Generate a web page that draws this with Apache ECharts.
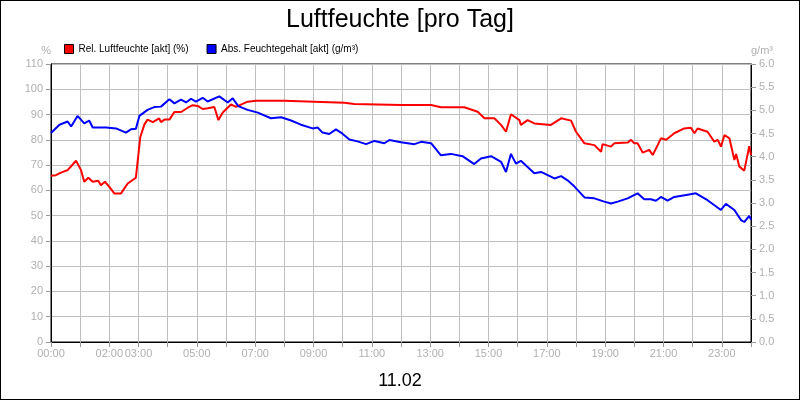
<!DOCTYPE html>
<html><head><meta charset="utf-8">
<script src="https://cdn.jsdelivr.net/npm/echarts@6/dist/echarts.min.js"></script>
<style>html,body{margin:0;padding:0}#c{width:798px;height:398px;border:1px solid #000}</style>
</head><body><div id="c"></div>
<script>
const relHours=[0,.17,.34,.57,.86,1.03,1.14,1.28,1.43,1.62,1.71,1.85,2.0,2.17,2.4,2.63,2.91,3.06,3.2,3.31,3.49,3.71,3.77,3.89,4.06,4.23,4.46,4.69,4.86,5.03,5.2,5.37,5.6,5.74,5.89,6.17,6.34,6.74,7.03,8.0,9.03,10.06,10.4,12,13.03,13.37,14.17,14.63,14.86,15.2,15.43,15.6,15.77,16.06,16.11,16.34,16.57,17.14,17.49,17.83,18.0,18.29,18.63,18.86,18.91,19.2,19.31,19.77,19.89,20.0,20.11,20.29,20.51,20.63,20.8,20.91,21.09,21.37,21.71,21.94,22.06,22.17,22.51,22.74,22.86,22.97,23.09,23.26,23.43,23.49,23.6,23.77,23.94,24.0];
const relValues=[65.8,66,67,68,71.7,68,63.4,65,63.4,63.8,62,63.4,61.4,58.8,58.8,62.7,65,81,86,88,87,88.5,87,88,88,91,91,92.7,93.7,93.4,92.2,92.5,93,87.8,90.8,94,93,95.1,95.5,95.5,95.1,94.7,94.2,93.8,93.8,92.9,92.9,91.1,88.5,88.5,85.9,83.2,90.1,87.8,85.9,87.8,86.5,85.9,88.5,87.6,83.2,78.6,77.9,75.3,78.3,77.3,78.6,78.9,80,78.6,78.6,74.9,76,74,77.9,80.6,80,82.6,84.5,84.8,82.6,84.5,83.2,79.3,80,77.3,81.9,80.6,72,74.4,69.4,67.8,77.5,74];
const absHours=[0,.29,.57,.69,.91,1.14,1.31,1.43,1.6,1.71,1.89,2.23,2.57,2.74,2.91,3.03,3.31,3.54,3.77,4.06,4.23,4.46,4.63,4.8,4.97,5.2,5.37,5.77,6.06,6.23,6.42,6.74,7.09,7.54,7.89,8.23,8.57,8.97,9.14,9.31,9.54,9.77,9.94,10.23,10.51,10.8,11.09,11.43,11.6,12.0,12.46,12.69,13.03,13.37,13.71,14.11,14.51,14.74,15.09,15.43,15.6,15.77,15.94,16.11,16.57,16.8,17.26,17.49,17.71,17.94,18.29,18.63,18.97,19.2,19.43,19.77,20.11,20.34,20.57,20.74,20.91,21.14,21.37,21.83,22.11,22.51,22.97,23.14,23.43,23.66,23.77,23.94,24.0];
const absValues=[4.51,4.69,4.76,4.65,4.88,4.72,4.78,4.63,4.63,4.63,4.63,4.61,4.52,4.59,4.60,4.88,5.01,5.07,5.08,5.24,5.15,5.23,5.17,5.25,5.19,5.27,5.19,5.30,5.17,5.26,5.09,5.01,4.95,4.83,4.85,4.78,4.69,4.61,4.63,4.52,4.49,4.59,4.52,4.37,4.33,4.27,4.34,4.29,4.36,4.31,4.27,4.32,4.29,4.03,4.06,4.01,3.84,3.96,4.01,3.89,3.67,4.06,3.85,3.91,3.64,3.67,3.53,3.58,3.49,3.36,3.12,3.10,3.03,2.99,3.03,3.10,3.21,3.08,3.08,3.05,3.13,3.05,3.13,3.18,3.21,3.06,2.85,2.98,2.85,2.63,2.59,2.72,2.64];
const shownHours=[0,2,3,5,7,9,11,13,15,17,19,21,23];
const title='Luftfeuchte [pro Tag]', dateLabel='11.02';
const relName='Rel. Luftfeuchte [akt] (%)', absName='Abs. Feuchtegehalt [akt] (g/m³)';
const pad=n=>String(n).padStart(2,'0');
const lab={color:'#b0b0b0',fontSize:11,fontFamily:'Arial, Liberation Sans'};
const ch=echarts.init(document.getElementById('c'));
ch.setOption({
  animation:false,
  title:[{text:title,left:'center',top:2,textStyle:{fontSize:25,fontWeight:'normal',color:'#000',fontFamily:'Arial, Liberation Sans'}},
         {text:dateLabel,left:'center',top:366,textStyle:{fontSize:18,fontWeight:'normal',color:'#000',fontFamily:'Arial, Liberation Sans'}}],
  legend:{left:58,top:38,itemWidth:9,itemHeight:9,itemGap:18,icon:'rect',textStyle:{fontSize:10,color:'#000',fontFamily:'Arial, Liberation Sans'},
    data:[{name:relName,itemStyle:{borderColor:'#000',borderWidth:1}},{name:absName,itemStyle:{borderColor:'#000',borderWidth:1}}]},
  grid:{left:50,right:48,top:63,bottom:57,show:true,borderColor:'#000',borderWidth:1},
  xAxis:{type:'value',min:0,max:24,interval:1,
    axisLine:{lineStyle:{color:'#000'}},axisTick:{lineStyle:{color:'#999'}},
    splitLine:{lineStyle:{color:'#c0c0c0'}},
    axisLabel:Object.assign({},lab,{margin:6,formatter:v=>shownHours.includes(v)?pad(v)+':00':''})},
  yAxis:[{type:'value',min:0,max:110,interval:10,name:'%',nameGap:8,nameTextStyle:Object.assign({},lab,{align:'right'}),
    axisLine:{show:true,lineStyle:{color:'#000'}},axisTick:{show:true,lineStyle:{color:'#999'}},
    splitLine:{lineStyle:{color:'#c0c0c0'}},axisLabel:lab},
   {type:'value',min:0,max:6,interval:0.5,name:'g/m³',nameGap:8,nameTextStyle:Object.assign({},lab,{align:'left'}),position:'right',
    axisLine:{show:true,lineStyle:{color:'#000'}},axisTick:{show:true,lineStyle:{color:'#999'}},
    splitLine:{show:false},axisLabel:Object.assign({},lab,{formatter:v=>v.toFixed(1)})}],
  series:[
   {name:relName,type:'line',yAxisIndex:0,showSymbol:false,lineStyle:{color:'#ff0000',width:2},itemStyle:{color:'#ff0000'},
    data:relHours.map((h,i)=>[h,relValues[i]])},
   {name:absName,type:'line',yAxisIndex:1,showSymbol:false,lineStyle:{color:'#0000ff',width:2},itemStyle:{color:'#0000ff'},
    data:absHours.map((h,i)=>[h,absValues[i]])}
  ]
});
</script></body></html>
